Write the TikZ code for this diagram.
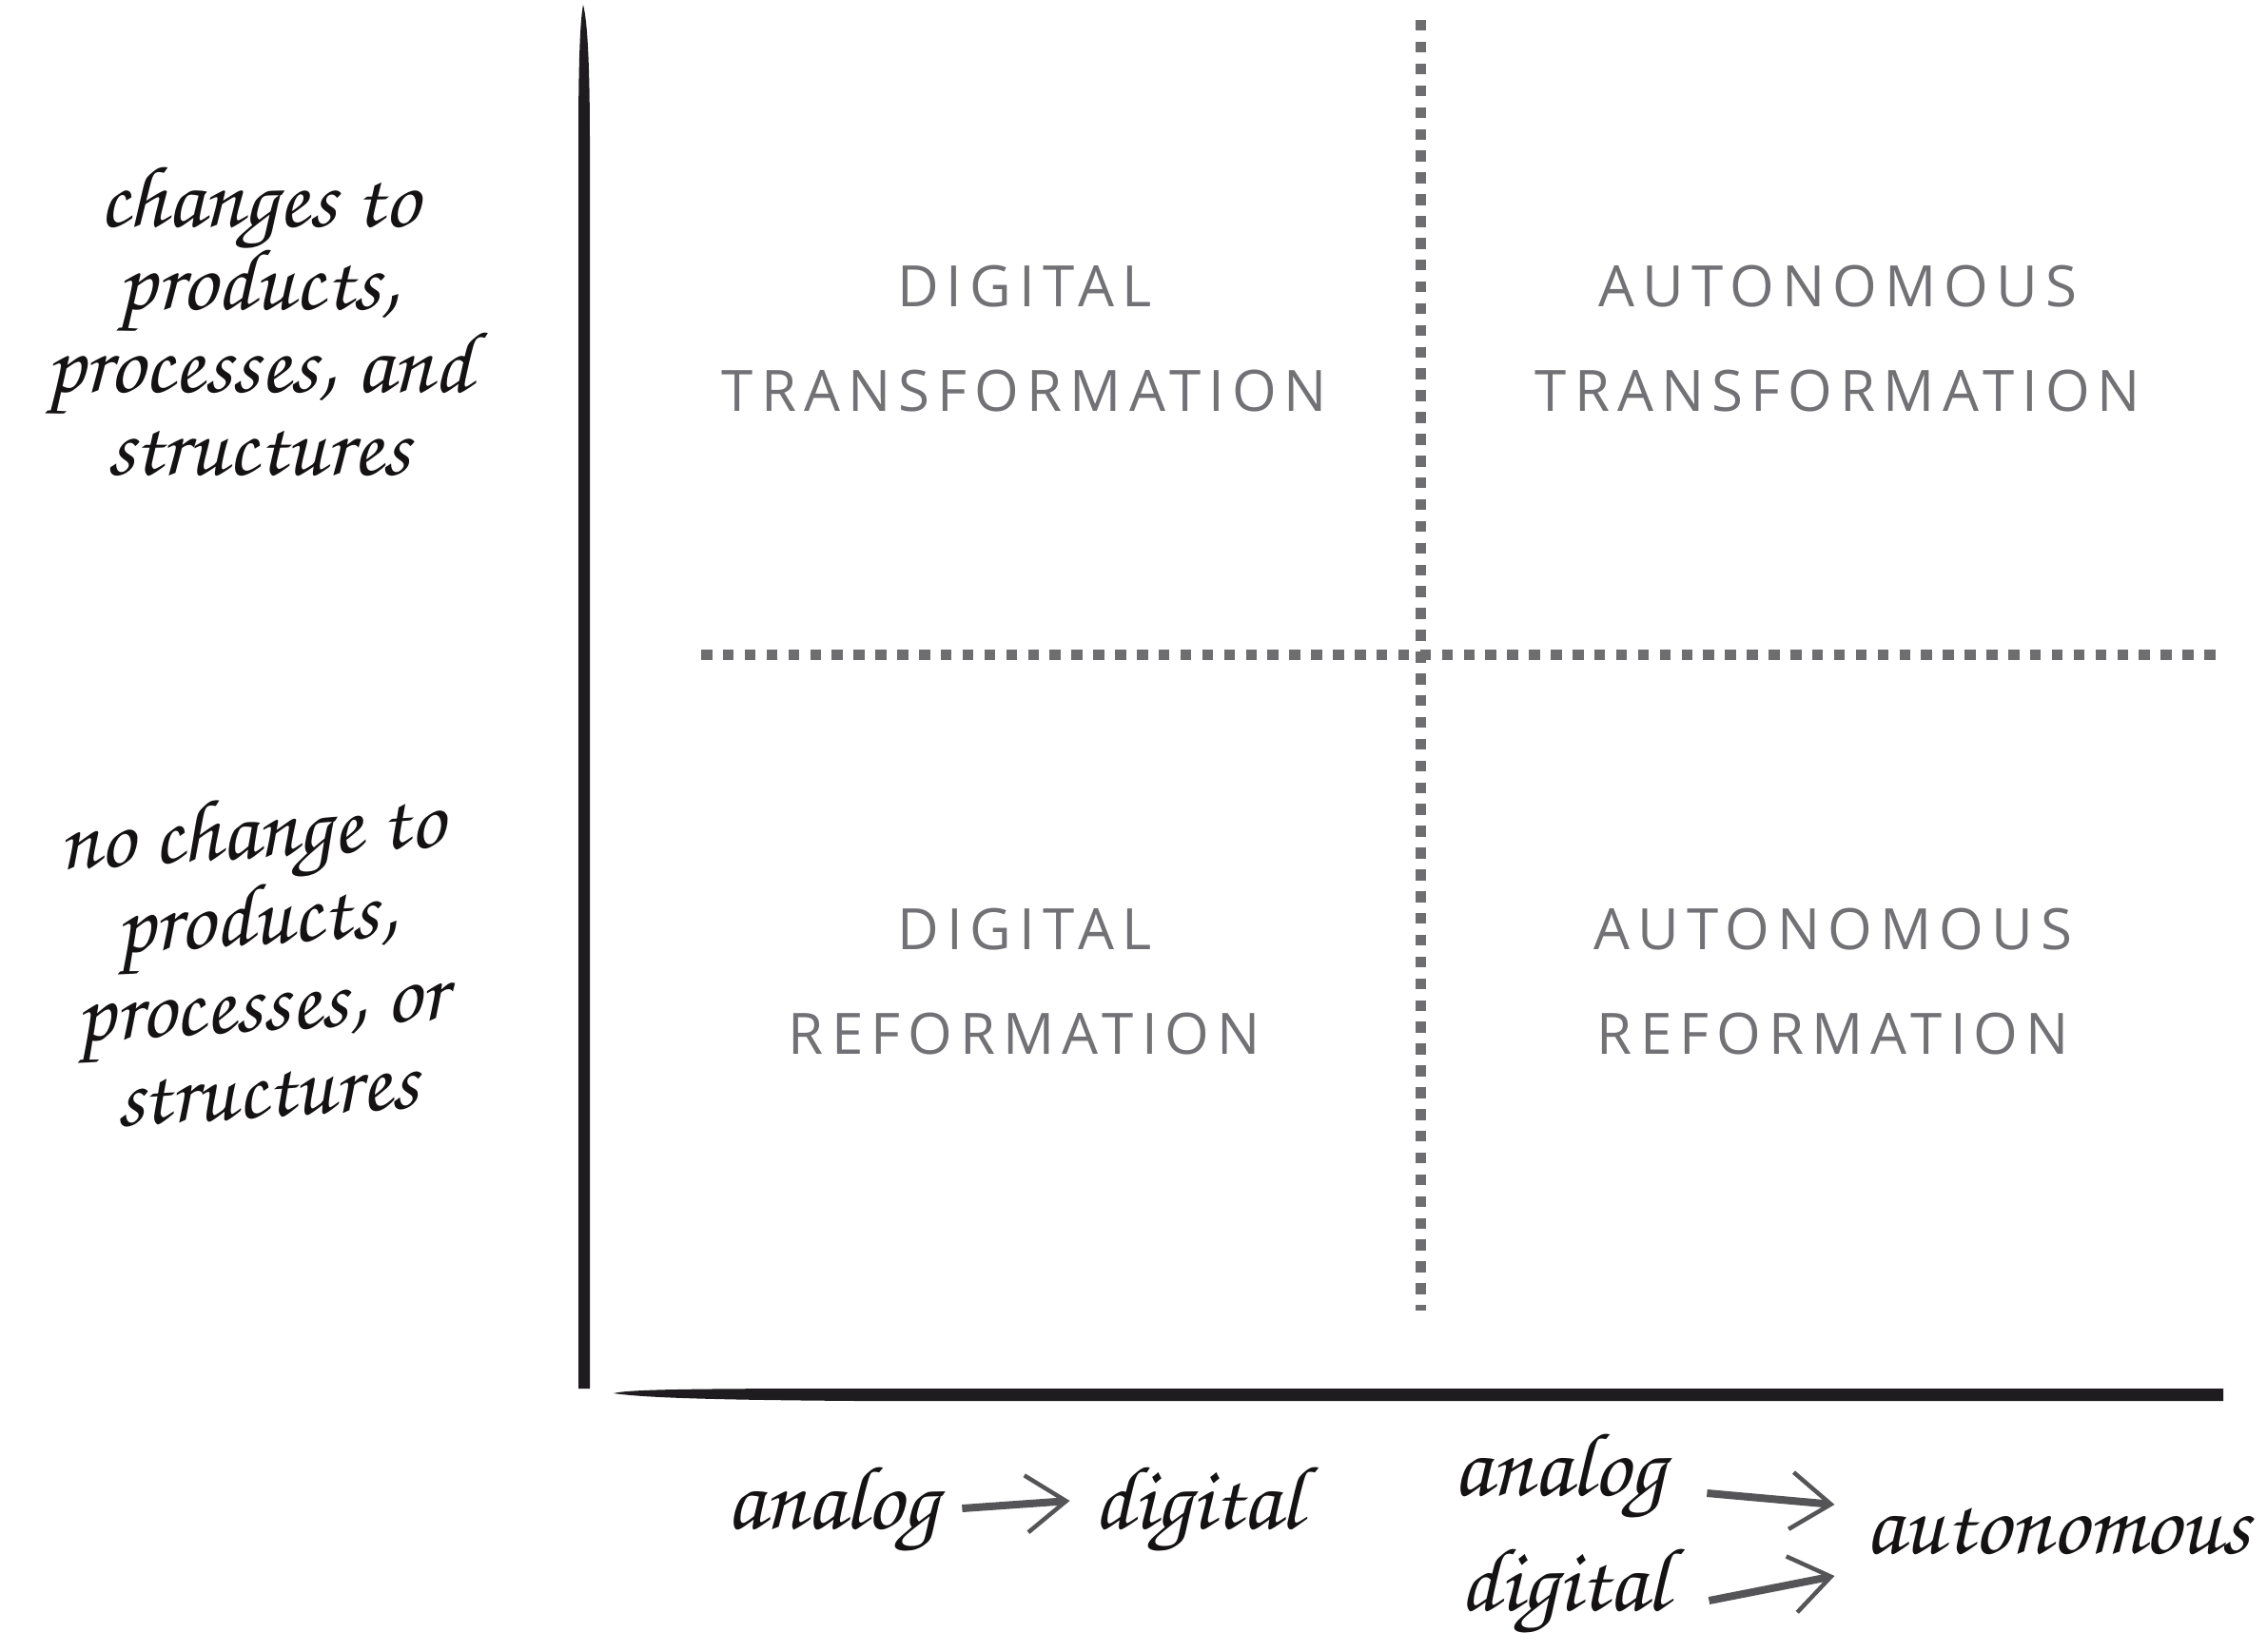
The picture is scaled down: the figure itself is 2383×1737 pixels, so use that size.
\documentclass[tikz,border=0pt]{standalone}
\usepackage{fontspec}
\usetikzlibrary{arrows.meta,calc}
\newfontfamily\hand[Extension=.otf]{texgyrechorus-mediumitalic}
\newfontfamily\quadfont[LetterSpace=13.5]{Open Sans}
\definecolor{quadgray}{RGB}{114,114,118}
\definecolor{dotgray}{RGB}{110,110,112}
\definecolor{axisblack}{RGB}{30,28,30}
\definecolor{inkblack}{RGB}{20,18,18}
\definecolor{brushgray}{RGB}{85,85,88}
\tikzset{
  quad/.style={inner sep=0pt, align=center, text=quadgray,
    font=\quadfont\fontsize{60}{110}\selectfont},
  sidelabel/.style={inner sep=0pt, align=center, text=inkblack,
    font=\hand\fontsize{92}{87}\selectfont},
  axislabel/.style={inner sep=0pt, text=inkblack,
    font=\hand\fontsize{95}{100}\selectfont},
  dotline/.style={draw=dotgray, line width=11.5pt, dash pattern=on 11.5pt off 11.4pt},
  brusharrow/.style={draw=brushgray, line width=8pt,
    -{Straight Barb[length=42pt,width=60pt,line width=4.5pt]}},
}
\begin{document}
\begin{tikzpicture}[x=1pt,y=-1pt]
\useasboundingbox (0,0) rectangle (2383,1737);
\fill[white] (0,0) rectangle (2383,1737);

% axes
\fill[axisblack] (613,5) .. controls (617,20) and (620,60) .. (620,150)
  -- (620,1460) -- (608,1460) -- (608,150) .. controls (608,60) and (610,20) .. (613,5) -- cycle;
\fill[axisblack] (645,1465) .. controls (660,1461) and (720,1460) .. (900,1460)
  -- (2337,1460) -- (2337,1473) -- (900,1473) .. controls (760,1472) and (680,1470) .. (645,1465) -- cycle;

% dotted quadrant lines
\draw[dotline] (1493.5,21) -- (1493.5,1378);
\draw[dotline] (737,688.5) -- (2337,688.5);

% quadrant texts
\node[quad] (dtr) at (1077,356.5) {DIGITAL\\TRANSFORMATION};
\node[quad] (atr) at (1932,356.5) {AUTONOMOUS\\TRANSFORMATION};
\node[quad] (dre) at (1077,1032.5) {DIGITAL\\REFORMATION};
\node[quad] (are) at (1927,1032.5) {AUTONOMOUS\\REFORMATION};

% side labels
\node[sidelabel] (chg) at (272,338) {changes to\\products,\\processes, and\\structures};
\node[sidelabel, rotate=3.5, font=\hand\fontsize{92}{91}\selectfont] (nochg) at (272,1008) {no change to\\products,\\processes, or\\structures};

% axis labels
\node[axislabel, anchor=base] (an1) at (875,1607) {analog};
\node[axislabel, anchor=base] (dg1) at (1259,1607) {digital};
\node[axislabel, anchor=base] (an2) at (1639,1572) {analog};
\node[axislabel, anchor=base] (dg2) at (1644,1693) {digital};
\node[axislabel, anchor=base] (aut) at (2163,1633) {autonomous};

% arrows
\draw[brusharrow] ($(an1.base east)+(25,-21)$) -- ($(dg1.base west)+(-25,-29)$);
\draw[brusharrow] ($(an2.base east)+(44,-2)$) -- ($(aut.base west)+(-32,-51)$);
\draw[brusharrow] ($(dg2.base east)+(43,-10)$) -- ($(aut.base west)+(-32,24)$);
\end{tikzpicture}
\end{document}
